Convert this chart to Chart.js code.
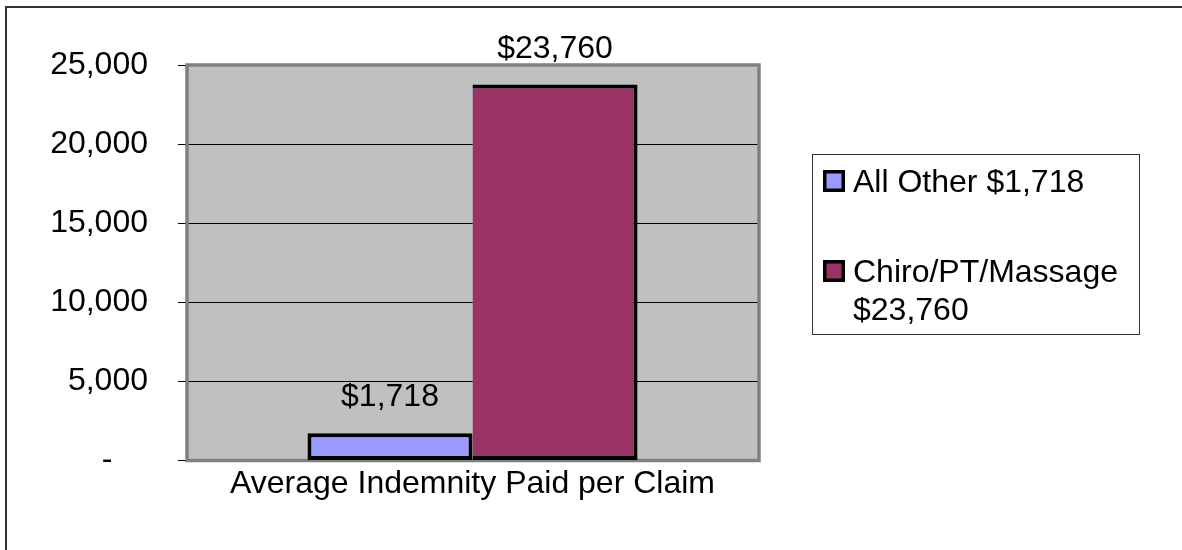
<!DOCTYPE html>
<html>
<head>
<meta charset="utf-8">
<script src="https://cdn.jsdelivr.net/npm/chart.js@4"></script>
<style>
  html, body { margin: 0; padding: 0; background: #fff; }
  #wrap { width: 1182px; height: 550px; position: relative; }
</style>
</head>
<body>
<div id="wrap"><canvas id="c" width="1182" height="550"></canvas></div>
<script>
const categories = ["Average Indemnity Paid per Claim"];
const seriesNames = ["All Other", "Chiro/PT/Massage"];
const allOtherValues = [1718];
const chiroValues = [23760];
const yTickValues = [0, 5000, 10000, 15000, 20000, 25000];
const seriesColors = ["#9999FF", "#993366"];

const FONT = '"Liberation Sans", Arial, sans-serif';
const fmt = v => v.toLocaleString('en-US');
const money = v => '$' + fmt(v);

const plotPlugin = {
  id: 'plotDeco',
  beforeDraw(chart) {
    const { ctx, chartArea: a } = chart;
    ctx.save();
    ctx.fillStyle = '#C0C0C0';
    ctx.fillRect(a.left, a.top, a.right - a.left, a.bottom - a.top);
    ctx.strokeStyle = '#333';
    ctx.lineWidth = 2;
    ctx.beginPath();
    ctx.moveTo(6, 550);
    ctx.lineTo(6, 7);
    ctx.lineTo(1182, 7);
    ctx.stroke();
    ctx.restore();
  },
  beforeDatasetsDraw(chart) {
    const { ctx, chartArea: a } = chart;
    ctx.save();
    ctx.strokeStyle = '#808080';
    ctx.lineWidth = 3.5;
    ctx.strokeRect(a.left + 1, a.top, a.right - a.left - 1, a.bottom - a.top);
    ctx.restore();
  },
  afterDatasetsDraw(chart) {
    const { ctx } = chart;
    ctx.save();
    ctx.font = '32px ' + FONT;
    ctx.fillStyle = '#000';
    ctx.textAlign = 'center';
    ctx.textBaseline = 'alphabetic';
    chart.data.datasets.forEach((ds, i) => {
      const meta = chart.getDatasetMeta(i);
      meta.data.forEach((bar, j) => {
        ctx.fillText(money(ds.data[j]), bar.x, bar.y - 27);
      });
    });
    ctx.restore();
  },
  afterDraw(chart) {
    const { ctx } = chart;
    ctx.save();
    const bx = 812.5, by = 154.5, bw = 327, bh = 180;
    ctx.strokeStyle = '#333';
    ctx.lineWidth = 1;
    ctx.strokeRect(bx, by, bw, bh);
    ctx.font = '32px ' + FONT;
    ctx.fillStyle = '#000';
    ctx.textAlign = 'left';
    ctx.textBaseline = 'alphabetic';
    const textX = 853, maxW = 282;
    const baselines = [192, 282];
    chart.data.datasets.forEach((ds, i) => {
      const words = ds.label.split(' ');
      const lines = [];
      let cur = '';
      words.forEach(w => {
        const t = cur ? cur + ' ' + w : w;
        if (ctx.measureText(t).width > maxW && cur) { lines.push(cur); cur = w; }
        else cur = t;
      });
      if (cur) lines.push(cur);
      const b = baselines[i];
      ctx.fillStyle = ds.backgroundColor;
      ctx.fillRect(823, b - 22, 22, 22);
      ctx.strokeStyle = '#000';
      ctx.lineWidth = 3.5;
      ctx.strokeRect(824.75, b - 20.25, 18.5, 18.5);
      ctx.fillStyle = '#000';
      lines.forEach((ln, k) => ctx.fillText(ln, textX, b + k * 38));
    });
    ctx.restore();
  }
};

new Chart(document.getElementById('c'), {
  type: 'bar',
  data: {
    labels: categories,
    datasets: [
      {
        label: seriesNames[0] + ' ' + money(allOtherValues[0]),
        data: allOtherValues,
        backgroundColor: seriesColors[0],
        borderColor: '#000',
        borderWidth: 4,
        borderSkipped: false,
        inflateAmount: 0
      },
      {
        label: seriesNames[1] + ' ' + money(chiroValues[0]),
        data: chiroValues,
        backgroundColor: seriesColors[1],
        borderColor: '#000',
        borderWidth: { top: 4, right: 4, bottom: 4, left: 0 },
        borderSkipped: false,
        inflateAmount: 0
      }
    ]
  },
  options: {
    responsive: false,
    animation: false,
    layout: { padding: { top: 65, right: 423, bottom: 0, left: 0 } },
    plugins: { legend: { display: false }, tooltip: { enabled: false } },
    datasets: { bar: { categoryPercentage: 0.576, barPercentage: 1 } },
    scales: {
      x: {
        grid: { display: false, drawTicks: false },
        border: { display: false },
        ticks: { color: '#000', font: { family: FONT, size: 32 }, padding: 4 },
        afterFit(s) { s.height = 89.5; }
      },
      y: {
        min: 0,
        max: 25000,
        afterBuildTicks(s) { s.ticks = yTickValues.map(v => ({ value: v })); },
        grid: { color: '#000', lineWidth: 1, tickLength: 8, drawOnChartArea: true },
        border: { display: false },
        ticks: {
          color: '#000',
          font: { family: FONT, size: 32 },
          padding: 30,
          callback: v => v === 0 ? '-    ' : fmt(v)
        },
        afterFit(s) { s.width = 186; }
      }
    }
  },
  plugins: [plotPlugin]
});
</script>
</body>
</html>
